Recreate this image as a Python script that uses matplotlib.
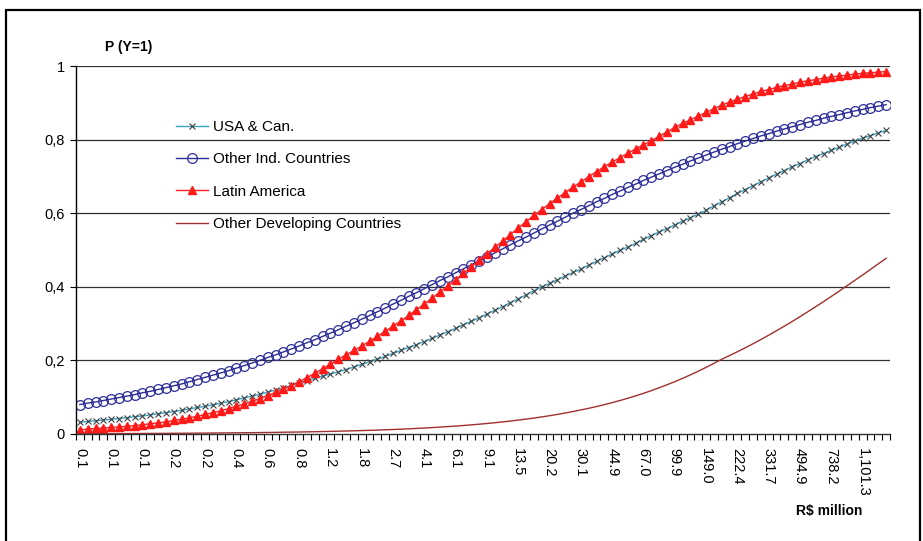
import matplotlib.pyplot as plt
from matplotlib.patches import Rectangle

plt.rcParams['font.family'] = ['Liberation Sans', 'DejaVu Sans']

# x tick labels (R$ million), one every 4 categories
tick_labels = ['0.1', '0.1', '0.1', '0.2', '0.2', '0.4', '0.6', '0.8', '1.2', '1.8',
               '2.7', '4.1', '6.1', '9.1', '13.5', '20.2', '30.1', '44.9', '67.0',
               '99.9', '149.0', '222.4', '331.7', '494.9', '738.2', '1,101.3']

usa_can = [0.032, 0.034, 0.036, 0.038, 0.040, 0.042, 0.044, 0.047, 0.049, 0.052,
           0.055, 0.058, 0.061, 0.064, 0.068, 0.072, 0.075, 0.079, 0.084, 0.088,
           0.093, 0.098, 0.103, 0.108, 0.114, 0.119, 0.125, 0.132, 0.138, 0.145,
           0.151, 0.157, 0.163, 0.169, 0.175, 0.182, 0.189, 0.196, 0.203, 0.211,
           0.219, 0.227, 0.235, 0.243, 0.251, 0.260, 0.269, 0.278, 0.287, 0.297,
           0.306, 0.316, 0.326, 0.336, 0.346, 0.357, 0.367, 0.378, 0.389, 0.400,
           0.409, 0.419, 0.429, 0.439, 0.448, 0.459, 0.469, 0.479, 0.489, 0.499,
           0.508, 0.518, 0.529, 0.539, 0.549, 0.558, 0.568, 0.578, 0.588, 0.597,
           0.608, 0.620, 0.631, 0.642, 0.654, 0.664, 0.675, 0.685, 0.696, 0.706,
           0.716, 0.726, 0.735, 0.745, 0.754, 0.762, 0.771, 0.779, 0.788, 0.796,
           0.804, 0.811, 0.818, 0.825]

other_ind = [0.080, 0.084, 0.087, 0.091, 0.095, 0.099, 0.103, 0.107, 0.112, 0.116,
             0.121, 0.126, 0.131, 0.136, 0.142, 0.148, 0.154, 0.160, 0.166, 0.172,
             0.179, 0.186, 0.193, 0.200, 0.208, 0.215, 0.223, 0.231, 0.239, 0.248,
             0.256, 0.265, 0.274, 0.283, 0.293, 0.302, 0.312, 0.322, 0.332, 0.342,
             0.353, 0.363, 0.374, 0.384, 0.395, 0.406, 0.417, 0.427, 0.438, 0.449,
             0.460, 0.470, 0.481, 0.492, 0.503, 0.514, 0.525, 0.535, 0.546, 0.557,
             0.568, 0.578, 0.589, 0.600, 0.610, 0.620, 0.631, 0.640, 0.651, 0.660,
             0.670, 0.679, 0.689, 0.698, 0.707, 0.716, 0.725, 0.733, 0.742, 0.750,
             0.758, 0.766, 0.774, 0.781, 0.789, 0.796, 0.803, 0.810, 0.816, 0.823,
             0.829, 0.835, 0.841, 0.847, 0.852, 0.858, 0.863, 0.868, 0.873, 0.878,
             0.882, 0.887, 0.891, 0.895]

latin_am = [0.012, 0.013, 0.015, 0.016, 0.018, 0.019, 0.021, 0.023, 0.025, 0.028,
            0.030, 0.033, 0.037, 0.040, 0.044, 0.048, 0.053, 0.058, 0.063, 0.069,
            0.075, 0.082, 0.089, 0.096, 0.104, 0.113, 0.122, 0.131, 0.142, 0.153,
            0.165, 0.177, 0.190, 0.203, 0.215, 0.227, 0.239, 0.252, 0.265, 0.279,
            0.293, 0.307, 0.322, 0.338, 0.353, 0.369, 0.386, 0.402, 0.419, 0.437,
            0.454, 0.472, 0.489, 0.507, 0.524, 0.542, 0.560, 0.577, 0.594, 0.610,
            0.626, 0.641, 0.656, 0.671, 0.685, 0.699, 0.713, 0.726, 0.739, 0.751,
            0.763, 0.775, 0.786, 0.797, 0.809, 0.821, 0.833, 0.844, 0.854, 0.864,
            0.874, 0.884, 0.894, 0.902, 0.910, 0.917, 0.924, 0.931, 0.936, 0.942,
            0.947, 0.951, 0.956, 0.960, 0.963, 0.967, 0.970, 0.973, 0.975, 0.978,
            0.980, 0.982, 0.983, 0.985]

other_dev = [0.0008, 0.0009, 0.0009, 0.0010, 0.0011, 0.0012, 0.0012, 0.0013, 0.0014, 0.0015,
             0.0016, 0.0017, 0.0019, 0.0020, 0.0021, 0.0023, 0.0024, 0.0026, 0.0028, 0.0030,
             0.0032, 0.0034, 0.0036, 0.0039, 0.0042, 0.0044, 0.0048, 0.0051, 0.0054, 0.0058,
             0.0062, 0.0066, 0.0071, 0.0076, 0.0081, 0.0087, 0.0093, 0.0099, 0.0106, 0.0114,
             0.0122, 0.0131, 0.0141, 0.0151, 0.0162, 0.0174, 0.0187, 0.0201, 0.0215, 0.0231,
             0.0248, 0.0266, 0.0285, 0.0306, 0.0328, 0.0352, 0.0377, 0.0404, 0.0433, 0.0464,
             0.0497, 0.0532, 0.0570, 0.0610, 0.0653, 0.0698, 0.0746, 0.0797, 0.0852, 0.0910,
             0.0971, 0.1036, 0.1105, 0.1178, 0.1256, 0.1337, 0.1422, 0.1512, 0.1607, 0.1707,
             0.1811, 0.1920, 0.2031, 0.2132, 0.2235, 0.2342, 0.2453, 0.2567, 0.2685, 0.2807,
             0.2930, 0.3058, 0.3188, 0.3323, 0.3459, 0.3596, 0.3738, 0.3882, 0.4028, 0.4175,
             0.4322, 0.4472, 0.4623, 0.4775]

n = len(usa_can)
x = list(range(n))

fig = plt.figure(figsize=(9.23, 5.41), dpi=100)
ax = fig.add_axes([0.0823, 0.1978, 0.8820, 0.6802])

# outer frame around the chart
fig.patches.append(Rectangle((6 / 923, -0.05), 914 / 923, 1.05 - 10 / 541,
                             transform=fig.transFigure, fill=False,
                             edgecolor='black', linewidth=1.6))

for yv in [0.2, 0.4, 0.6, 0.8, 1.0]:
    ax.axhline(yv, color='#303030', linewidth=0.9, zorder=0)

ax.plot(x, usa_can, color='#3aa3c2', linewidth=1.0, marker='x', markersize=4.5,
        markeredgecolor='#404040', markeredgewidth=0.8, label='USA & Can.')
ax.plot(x, other_ind, color='#2e2e9a', linewidth=1.0, marker='o', markersize=7,
        markerfacecolor='none', markeredgecolor='#2e2e9a', markeredgewidth=0.9,
        label='Other Ind. Countries')
ax.plot(x, latin_am, color='#ff2020', linewidth=1.0, marker='^', markersize=6,
        markerfacecolor='#ff1a1a', markeredgecolor='#ff1a1a',
        label='Latin America')
ax.plot(x, other_dev, color='#a03030', linewidth=1.0,
        label='Other Developing Countries')

ax.set_xlim(-0.5, n - 0.5)
ax.set_ylim(0, 1)

ax.set_yticks([0, 0.2, 0.4, 0.6, 0.8, 1.0])
ax.set_yticklabels(['0', '0,2', '0,4', '0,6', '0,8', '1'], fontsize=10.5)
ax.set_xticks(list(range(0, n, 4)))
ax.set_xticklabels(tick_labels, rotation=-90, fontsize=10.5)
ax.set_xticks([i - 0.5 for i in range(n + 1)], minor=True)
ax.tick_params(axis='x', which='major', length=0, pad=10)
ax.tick_params(axis='x', which='minor', length=4, width=0.8, direction='out')
ax.tick_params(axis='y', length=4, width=0.8, pad=4)

for s in ['top', 'right']:
    ax.spines[s].set_visible(False)
ax.spines['left'].set_linewidth(1.0)
ax.spines['bottom'].set_linewidth(1.0)
ax.spines['bottom'].set_color('#303030')

leg = ax.legend(loc='upper left', bbox_to_anchor=(0.113, 0.874), frameon=False,
                fontsize=11, handlelength=2.1, handletextpad=0.35,
                labelspacing=1.2, borderpad=0)

fig.text(129 / 923, 1 - 47 / 541, 'P (Y=1)', fontsize=10, fontweight='bold',
         ha='center', va='center')
fig.text(829 / 923, 1 - 511 / 541, 'R$ million', fontsize=10, fontweight='bold',
         ha='center', va='center')

fig.savefig('out.png', dpi=100)
